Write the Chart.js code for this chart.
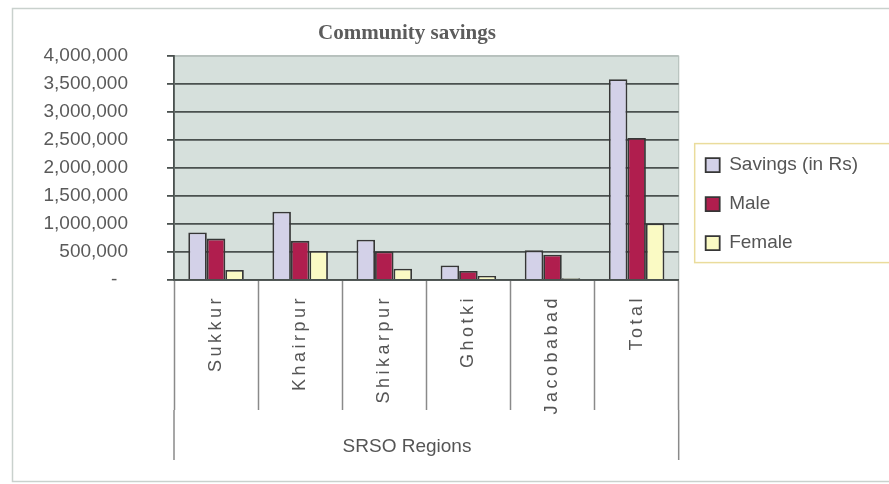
<!DOCTYPE html>
<html>
<head>
<meta charset="utf-8">
<title>Community savings</title>
<script src="https://cdn.jsdelivr.net/npm/chart.js@4/dist/chart.umd.min.js"></script>
<style>
  html, body { margin: 0; padding: 0; background: #fff; }
  canvas { display: block; }
</style>
</head>
<body>
<canvas id="main" width="889" height="484"></canvas>
<script>
// regions and series
var regions = ['Sukkur', 'Khairpur', 'Shikarpur', 'Ghotki', 'Jacobabad', 'Total'];
var savings = [850000, 1220000, 720000, 260000, 530000, 3590000];
var male = [740000, 700000, 510000, 160000, 450000, 2540000];
var female = [180000, 520000, 200000, 70000, 30000, 1010000];
var yTicks = [0, 500000, 1000000, 1500000, 2000000, 2500000, 3000000, 3500000, 4000000];

var gridDark = '#4a514f';
var gridLight = '#b7c1bd';
var titleCenter = 407;

// page frame, plot background and the legend box go under everything else
var backdrop = {
	id: 'backdrop',
	beforeDraw: function(chart){
		var ctx = chart.ctx,
			area = chart.chartArea;
		ctx.save();
		ctx.fillStyle = '#fff';
		ctx.fillRect(0, 0, chart.width, chart.height);
		ctx.strokeStyle = '#c9d1cd';
		ctx.lineWidth = 1.5;
		ctx.strokeRect(12.5, 8.5, chart.width, chart.height - 11);

		ctx.fillStyle = '#d6e0dc';
		ctx.fillRect(area.left, area.top, area.right - area.left, area.bottom - area.top);
		ctx.strokeStyle = gridLight;
		ctx.lineWidth = 1.2;
		ctx.strokeRect(area.left, area.top, area.right - area.left, area.bottom - area.top);

		var boxes = chart.legend.legendHitBoxes;
		if (boxes && boxes.length){
			var first = boxes[0],
				last = boxes[boxes.length - 1];
			var top = first.top - 12,
				left = first.left - 11,
				bottom = last.top + last.height + 10;
			ctx.fillStyle = '#fff';
			ctx.fillRect(left, top, chart.width - left + 10, bottom - top);
			ctx.strokeStyle = '#eadc9c';
			ctx.lineWidth = 1.5;
			ctx.strokeRect(left, top, chart.width - left + 10, bottom - top);
		}
		ctx.restore();
	}
};

// nudge the legend clear of the plot, center both titles on the same line,
// and space out the category letters
var axisTweaks = {
	id: 'axisTweaks',
	afterLayout: function(chart){
		var legend = chart.legend;
		legend.left += 7;
		legend.right += 7;
		legend.top += 36;
		legend.bottom += 36;

		var title = chart.titleBlock;
		var shift = (title.left + title.right) / 2 - titleCenter;
		title.left -= shift;
		title.right -= shift;

		var scale = chart.scales.x;
		if (!scale._plainDrawLabels){
			scale._plainDrawLabels = scale.drawLabels;
			scale.drawLabels = function(area){
				var ctx = this.ctx;
				ctx.save();
				ctx.letterSpacing = '3.5px';
				this._plainDrawLabels(area);
				ctx.restore();
			};
			scale._plainDrawTitle = scale.drawTitle;
			scale.drawTitle = function(){
				var ctx = this.ctx;
				ctx.save();
				ctx.translate(titleCenter - (this.left + this.right) / 2, 0);
				this._plainDrawTitle();
				ctx.restore();
			};
		}
	},
	// the outer category lines run down around the axis title
	afterDraw: function(chart){
		var ctx = chart.ctx,
			scale = chart.scales.x,
			y0 = scale.top + 130;
		ctx.save();
		ctx.strokeStyle = '#8a8a8a';
		ctx.lineWidth = 1.5;
		ctx.beginPath();
		ctx.moveTo(scale.left, y0);
		ctx.lineTo(scale.left, y0 + 50);
		ctx.moveTo(scale.right, y0);
		ctx.lineTo(scale.right, y0 + 50);
		ctx.stroke();
		ctx.restore();
	}
};

Chart.defaults.font.family = "'Liberation Sans', Arial, sans-serif";
Chart.defaults.color = '#5a5a5a';

var ctx = document.getElementById('main').getContext('2d');
var chart = new Chart(ctx, {
	type: 'bar',
	data: {
		labels: regions,
		datasets: [
			{label: 'Savings (in Rs)', data: savings, backgroundColor: '#d3d1e8', borderColor: '#363636', borderWidth: 1.8},
			{label: 'Male', data: male, backgroundColor: '#b01e4e', borderColor: '#363636', borderWidth: 1.8},
			{label: 'Female', data: female, backgroundColor: '#fafac4', borderColor: '#363636', borderWidth: 1.8}
		]
	},
	options: {
		responsive: false,
		animation: false,
		layout: {padding: {left: 0, right: 28, top: 0, bottom: 20}},
		datasets: {
			bar: {barPercentage: 1, categoryPercentage: 0.66}
		},
		plugins: {
			title: {
				display: true,
				text: 'Community savings',
				color: '#5c5c5c',
				font: {family: "'Liberation Serif', 'Times New Roman', serif", size: 21, weight: 'bold'},
				padding: {top: 21, bottom: 10}
			},
			legend: {
				position: 'right',
				fullSize: false,
				labels: {
					color: '#555',
					font: {size: 19},
					boxWidth: 14,
					boxHeight: 14,
					padding: 20
				}
			},
			tooltip: {enabled: false}
		},
		scales: {
			x: {
				grid: {
					drawOnChartArea: false,
					drawTicks: true,
					tickLength: 130,
					tickColor: '#8a8a8a',
					tickWidth: 1.5
				},
				border: {color: gridDark, width: 1.8},
				ticks: {
					color: '#555',
					font: {size: 18},
					minRotation: 90,
					maxRotation: 90,
					autoSkip: false,
					padding: -115
				},
				title: {
					display: true,
					text: 'SRSO Regions',
					color: '#555',
					font: {size: 19},
					padding: {top: 0, bottom: 6}
				},
				afterFit: function(scale){
					scale.height = 184;
				}
			},
			y: {
				min: 0,
				max: 4000000,
				afterBuildTicks: function(scale){
					scale.ticks = yTicks.map(function(v){ return {value: v}; });
				},
				grid: {
					color: function(c){
						return c.tick && c.tick.value === 4000000 ? gridLight : gridDark;
					},
					lineWidth: 1.8,
					tickLength: 7,
					tickColor: gridDark
				},
				border: {color: gridDark, width: 1.8},
				ticks: {
					color: '#5a5a5a',
					font: {size: 19},
					padding: 39,
					callback: function(value){
						return value === 0 ? '-  ' : value.toLocaleString('en-US');
					}
				},
				afterFit: function(scale){
					scale.width = 174;
				}
			}
		}
	},
	plugins: [backdrop, axisTweaks]
});
</script>
</body>
</html>
